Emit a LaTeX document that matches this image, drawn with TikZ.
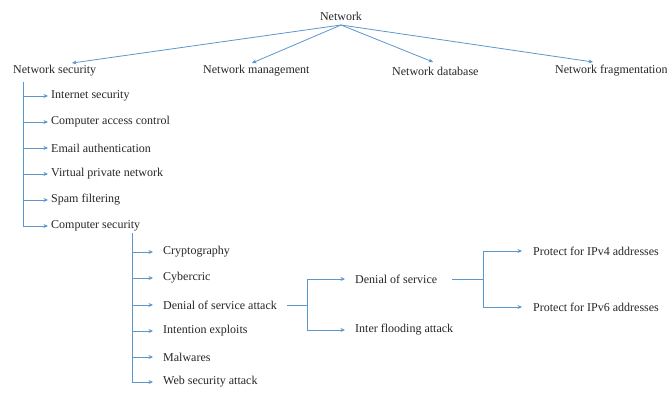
\documentclass[tikz,border=0pt]{standalone}
\usepackage{fontspec}
\setmainfont{Liberation Serif}
\usetikzlibrary{arrows.meta}
\definecolor{lineblue}{RGB}{91,150,205}
\begin{document}
\begin{tikzpicture}[x=1pt,y=-1pt,
  every node/.style={font=\fontsize{12}{14}\selectfont, inner sep=0pt, text=black!85},
  conn/.style={draw=lineblue, line width=0.8pt},
  arr/.style={conn, -{Stealth[length=4.5pt,width=4pt]}},
  lbl/.style={anchor=west},
  lblA/.style={anchor=west, inner xsep=3pt},
  lblB/.style={anchor=west, inner xsep=10pt}]
\useasboundingbox (0,0) rectangle (667,396);

% top level
\node (net) at (341,16) {Network};
\node[lbl] (ns) at (13,71) {Network security};
\node[lbl] (nm) at (203,71) {Network management};
\node[lbl] (nd) at (392,71) {Network database};
\node[lbl] (nf) at (555,71) {Network fragmentation};
\coordinate (top) at (341,25);
\coordinate (t1) at (72,63);
\coordinate (t2) at (252,63);
\coordinate (t3) at (433,62);
\coordinate (t4) at (593,62);
\draw[arr] (top) -- (t1);
\draw[arr] (top) -- (t2);
\draw[arr] (top) -- (t3);
\draw[arr] (top) -- (t4);

% network security children
\node[lblA] (a1) at (48,96) {Internet security};
\node[lblA] (a2) at (48,122) {Computer access control};
\node[lblA] (a3) at (48,148) {Email authentication};
\node[lblA] (a4) at (48,174) {Virtual private network};
\node[lblA] (a5) at (48,200) {Spam filtering};
\node[lblA] (a6) at (48,226) {Computer security};
\coordinate (ra) at (23,82);
\draw[conn] (ra) -- (ra |- a6.west);
\foreach \n in {a1,a2,a3,a4,a5,a6}
  \draw[arr] (ra |- \n.west) -- (\n.west);

% computer security children
\node[lblB] (b1) at (153,252) {Cryptography};
\node[lblB] (b2) at (153,278) {Cybercric};
\node[lblB] (b3) at (153,305) {Denial of service attack};
\node[lblB] (b4) at (153,331) {Intention exploits};
\node[lblB] (b5) at (153,357) {Malwares};
\node[lblB] (b6) at (153,382) {Web security attack};
\coordinate (rb) at (132,233);
\draw[conn] (rb) -- (rb |- b6.west);
\foreach \n in {b1,b2,b3,b4,b5,b6}
  \draw[arr] (rb |- \n.west) -- (\n.west);

% denial of service attack children
\node[lblB] (c1) at (345,279) {Denial of service};
\node[lblB] (c2) at (345,330) {Inter flooding attack};
\coordinate (rc) at (307,305);
\draw[conn] (b3.east) -- (rc);
\draw[conn] (rc |- c1.west) -- (rc |- c2.west);
\draw[arr] (rc |- c1.west) -- (c1.west);
\draw[arr] (rc |- c2.west) -- (c2.west);

% denial of service children
\node[anchor=west, inner xsep=11pt] (d1) at (522,251) {Protect for IPv4 addresses};
\node[anchor=west, inner xsep=11pt] (d2) at (522,307) {Protect for IPv6 addresses};
\coordinate (rd) at (483,279);
\draw[conn] ([xshift=5pt]c1.east) -- (rd);
\draw[conn] (rd |- d1.west) -- (rd |- d2.west);
\draw[arr] (rd |- d1.west) -- (d1.west);
\draw[arr] (rd |- d2.west) -- (d2.west);
\end{tikzpicture}
\end{document}
